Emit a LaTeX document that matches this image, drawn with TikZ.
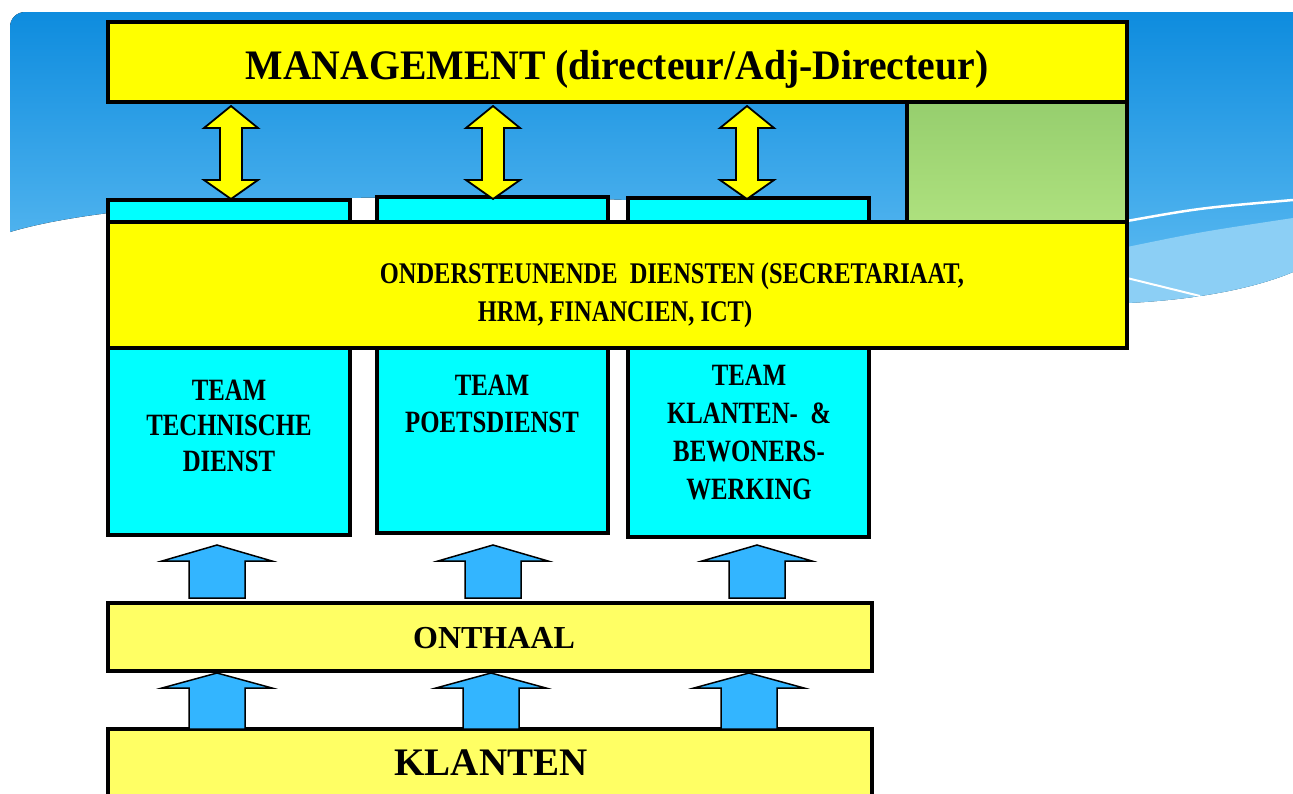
\documentclass[tikz,border=0pt]{standalone}
\usepackage{fontspec}
\setmainfont{Liberation Serif}
\newfontfamily\mgfont[FakeStretch=0.945]{Liberation Serif}
\newfontfamily\condfont[FakeStretch=0.8]{Liberation Serif}
\newfontfamily\ondfont[FakeStretch=0.815]{Liberation Serif}
\usetikzlibrary{calc}
\definecolor{ylw}{RGB}{255,255,0}
\definecolor{cyn}{RGB}{0,255,255}
\definecolor{lylw}{RGB}{255,255,100}
\definecolor{grnTop}{RGB}{150,206,110}
\definecolor{grnBot}{RGB}{174,225,126}
\definecolor{skyTop}{RGB}{14,140,222}
\definecolor{skyBot}{RGB}{98,190,243}
\definecolor{skyLight}{RGB}{140,207,245}
\definecolor{arrBlue}{RGB}{51,181,255}
\tikzset{
  box/.style={draw=black, line width=3.5, rectangle, inner sep=0, outer sep=0, anchor=north west},
  yarrow/.style={fill=ylw, draw=black, line width=1.8, line join=miter},
  barrow/.style={fill=arrBlue, draw=black, line width=1.5, line join=miter},
  mgtxt/.style={font=\mgfont\bfseries\fontsize{42}{50}\selectfont, anchor=base, inner sep=0},
  ondtxt/.style={font=\ondfont\bfseries\fontsize{30}{38}\selectfont, anchor=base, inner sep=0},
  teamtxt/.style={font=\condfont\bfseries\fontsize{31}{#1}\selectfont, align=center, inner sep=0},
  bigtxt/.style={font=\bfseries\fontsize{#1}{#1}\selectfont, anchor=base, inner sep=0}
}
\newcommand\yellowdbl[1]{%
  \draw[yarrow] (#1) -- ++(27,22) -- ++(-16,0) -- ++(0,52) -- ++(16,0) -- ++(-27,19)
    -- ++(-27,-19) -- ++(16,0) -- ++(0,-52) -- ++(-16,0) -- cycle;}
\newcommand\blueup[3]{%
  \draw[barrow] (#1) ++(-28,0) -- ++(0,-#2) -- ++(-27,0) -- ++(55,-#3) -- ++(55,#3)
    -- ++(-27,0) -- ++(0,#2) -- cycle;}
\begin{document}
\begin{tikzpicture}[x=1pt,y=-1pt]
\useasboundingbox (0,0) rectangle (1293,793);
\clip (0,0) rectangle (1293,793);
\fill[white] (0,0) rectangle (1293,793);
% sky background
\fill[top color=skyTop, bottom color=skyBot]
  (10,232) -- (10,40) [rounded corners=15] -- (10,12) -- (100,12) [sharp corners] -- (1293,12)
  -- (1293,272) .. controls (1250,290) and (1190,300) .. (1127,303)
  -- (1000,250) .. controls (880,212) and (700,198) .. (480,197)
  .. controls (250,196) and (90,208) .. (10,232) -- cycle;
\fill[skyLight] (1127,247) .. controls (1200,232) .. (1293,218) -- (1293,272)
  .. controls (1250,290) and (1190,300) .. (1127,303) -- cycle;
\draw[white, line width=2.5] (1127,221) .. controls (1200,208) .. (1293,200);
\draw[white, line width=2] (1127,278) -- (1200,296);
% boxes
\node[box, fill=ylw, minimum width=1019, minimum height=80] (mgmt) at (108,22) {};
\node[box, top color=grnTop, bottom color=grnBot, minimum width=220, minimum height=120] (green) at (907,102) {};
\node[box, fill=cyn, minimum width=242, minimum height=335] (tb1) at (108,200) {};
\node[box, fill=cyn, minimum width=231, minimum height=336] (tb2) at (377,197) {};
\node[box, fill=cyn, minimum width=241, minimum height=339] (tb3) at (628,198) {};
\node[box, fill=ylw, minimum width=1019, minimum height=126] (ond) at (108,222) {};
\node[box, fill=lylw, minimum width=764, minimum height=68] (onthaal) at (108,603) {};
\node[box, fill=lylw, minimum width=764, minimum height=100] (klanten) at (108,729) {};
% texts
\node[mgtxt] (mgmtT) at (617,79) {MANAGEMENT (directeur/Adj-Directeur)};
\node[ondtxt] (ondA) at (672,283) {ONDERSTEUNENDE~~DIENSTEN (SECRETARIAAT,};
\node[ondtxt] (ondB) at (615,321) {HRM, FINANCIEN, ICT)};
\node[teamtxt=35.5] (t1) at (229,425.5) {TEAM\\TECHNISCHE\\DIENST};
\node[teamtxt=37] (t2) at (492,404) {TEAM\\POETSDIENST};
\node[teamtxt=38] (t3) at (749,432.5) {TEAM\\KLANTEN-~~\&\\BEWONERS-\\WERKING};
\node[bigtxt=32] (onthaalT) at (494,648) {ONTHAAL};
\node[bigtxt=39] (klantenT) at (491,775) {KLANTEN};
% double arrows management <-> teams
\path (tb1.north |- mgmt.south) ++(2,4) coordinate (ya1);
\path (tb2.north |- mgmt.south) ++(0.5,4) coordinate (ya2);
\path (tb3.north |- mgmt.south) ++(-1.5,4) coordinate (ya3);
\yellowdbl{ya1}
\yellowdbl{ya2}
\yellowdbl{ya3}
% blue arrows
\coordinate (b1) at (217,598);
\coordinate (b2) at (493,598);
\coordinate (b3) at (757,598);
\coordinate (c1) at (217,729);
\coordinate (c2) at (491,729);
\coordinate (c3) at (749,729);
\blueup{b1}{37}{16}
\blueup{b2}{37}{16}
\blueup{b3}{37}{16}
\blueup{c1}{41}{15}
\blueup{c2}{41}{15}
\blueup{c3}{41}{15}
\end{tikzpicture}
\end{document}
